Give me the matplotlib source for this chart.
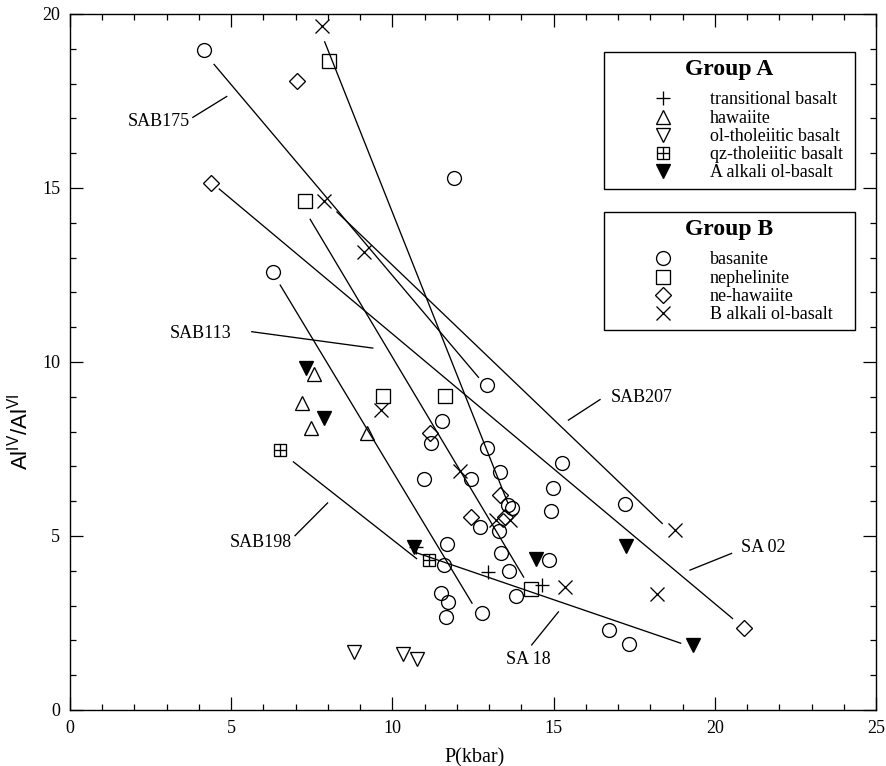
import matplotlib
matplotlib.use('Agg')
import matplotlib.pyplot as plt
from matplotlib.lines import Line2D
from matplotlib.ticker import MultipleLocator

plt.rcParams['font.family'] = ['Liberation Serif', 'DejaVu Serif']
plt.rcParams['mathtext.fontset'] = 'custom'
plt.rcParams['mathtext.rm'] = 'Liberation Sans'

# ---------------- data ----------------
# Group A
trans_x = [12.96, 14.65, 10.72]
trans_y = [3.97, 3.59, 4.68]
haw_x = [7.58, 7.21, 7.48, 9.22]
haw_y = [9.66, 8.81, 8.09, 7.97]
olth_x = [8.82, 10.33, 10.75]
olth_y = [1.68, 1.60, 1.46]
qzth_x = [6.52, 11.13]
qzth_y = [7.47, 4.31]
aalk_x = [7.33, 7.87, 10.66, 14.44, 17.25, 19.33]
aalk_y = [9.82, 8.38, 4.69, 4.34, 4.72, 1.87]

# Group B
bas_x = [4.16, 11.90, 6.31, 12.92, 11.54, 11.20, 12.92, 15.27, 13.33, 12.44,
         10.97, 14.99, 13.60, 13.70, 14.93, 12.71, 13.32, 11.68, 11.59, 13.37,
         14.85, 13.61, 13.82, 11.52, 11.73, 11.65, 12.79, 17.20, 16.72, 17.35]
bas_y = [18.97, 15.28, 12.60, 9.34, 8.30, 7.66, 7.54, 7.09, 6.84, 6.63,
         6.65, 6.37, 5.90, 5.80, 5.72, 5.27, 5.15, 4.77, 4.17, 4.50,
         4.31, 3.98, 3.28, 3.35, 3.09, 2.66, 2.78, 5.92, 2.30, 1.90]
neph_x = [8.02, 7.30, 9.71, 11.62, 14.29]
neph_y = [18.65, 14.63, 9.03, 9.02, 3.47]
nehaw_x = [7.04, 4.37, 11.18, 13.33, 13.50, 12.44, 20.90]
nehaw_y = [18.07, 15.15, 7.95, 6.18, 5.55, 5.55, 2.37]
balk_x = [7.83, 7.89, 9.11, 9.66, 12.09, 13.20, 13.65, 15.34, 18.20, 18.76]
balk_y = [19.66, 14.63, 13.17, 8.62, 6.88, 5.45, 5.45, 3.53, 3.33, 5.16]

# regression lines (start / end)
line_x0 = [4.47, 7.90, 7.45, 6.52, 4.63, 8.28, 6.93, 10.65]
line_y0 = [18.55, 19.20, 14.10, 12.21, 14.97, 14.31, 7.13, 4.55]
line_x1 = [12.67, 13.58, 14.07, 12.47, 20.55, 18.37, 10.75, 18.94]
line_y1 = [9.56, 5.95, 3.82, 3.07, 2.63, 5.36, 4.35, 1.92]

# sample labels with leader lines
lab_text = ['SAB175', 'SAB113', 'SAB207', 'SAB198', 'SA 02', 'SA 18']
lab_x = [2.75, 4.05, 17.72, 5.92, 21.50, 14.21]
lab_y = [16.90, 10.83, 8.99, 4.82, 4.66, 1.44]
lead_x0 = [3.81, 5.64, 15.46, 6.98, 19.23, 14.32]
lead_y0 = [17.03, 10.87, 8.33, 5.01, 4.02, 1.87]
lead_x1 = [4.86, 9.39, 16.44, 7.99, 20.52, 15.15]
lead_y1 = [17.63, 10.40, 8.92, 5.95, 4.50, 2.82]

groupA_labels = ['transitional basalt', 'hawaiite', 'ol-tholeiitic basalt',
                 'qz-tholeiitic basalt', 'A alkali ol-basalt']
groupB_labels = ['basanite', 'nephelinite', 'ne-hawaiite', 'B alkali ol-basalt']

# ---------------- figure ----------------
fig = plt.figure(figsize=(8.86, 7.66), dpi=100)
ax = fig.add_axes([70 / 886, 1 - 710 / 766, 806 / 886, 696 / 766])

lw = 0.95
for xa, ya, xb, yb in zip(line_x0, line_y0, line_x1, line_y1):
    ax.plot([xa, xb], [ya, yb], color='black', lw=lw, zorder=2)

for t, tx, ty, xa, ya, xb, yb in zip(lab_text, lab_x, lab_y,
                                      lead_x0, lead_y0, lead_x1, lead_y1):
    ax.plot([xa, xb], [ya, yb], color='black', lw=lw, zorder=2)
    ax.text(tx, ty, t, ha='center', va='center', fontsize=13, zorder=3)

mk = dict(linestyle='none', color='black', markeredgewidth=0.95, zorder=4)
open_ = dict(markerfacecolor='none', **mk)

h_trans, = ax.plot(trans_x, trans_y, marker='+', markersize=10, **mk)
h_haw, = ax.plot(haw_x, haw_y, marker='^', markersize=10, **open_)
h_olth, = ax.plot(olth_x, olth_y, marker='v', markersize=10, **open_)
h_qz1, = ax.plot(qzth_x, qzth_y, marker='s', markersize=9, **open_)
h_qz2, = ax.plot(qzth_x, qzth_y, marker='+', markersize=9, **mk)
h_aalk, = ax.plot(aalk_x, aalk_y, marker='v', markersize=10,
                  markerfacecolor='black', **mk)

h_bas, = ax.plot(bas_x, bas_y, marker='o', markersize=10, **open_)
h_neph, = ax.plot(neph_x, neph_y, marker='s', markersize=9.5, **open_)
h_nehaw, = ax.plot(nehaw_x, nehaw_y, marker='D', markersize=8, **open_)
h_balk, = ax.plot(balk_x, balk_y, marker='x', markersize=10, **mk)

ax.set_xlim(0, 25)
ax.set_ylim(0, 20)
ax.xaxis.set_major_locator(MultipleLocator(5))
ax.xaxis.set_minor_locator(MultipleLocator(1))
ax.yaxis.set_major_locator(MultipleLocator(5))
ax.yaxis.set_minor_locator(MultipleLocator(1))
ax.tick_params(which='both', direction='in', top=True, right=True,
               width=0.9, labelsize=13, pad=7)
ax.tick_params(which='major', length=9.5)
ax.tick_params(which='minor', length=4.5)
for s in ax.spines.values():
    s.set_linewidth(1.0)

ax.set_xlabel('P(kbar)', fontsize=14.5)
ax.xaxis.set_label_coords(0.5025, -0.055)
ax.set_ylabel(r'Al$^{\mathrm{IV}}$/Al$^{\mathrm{VI}}$', fontsize=16,
              family='Liberation Sans')
ax.yaxis.set_label_coords(-0.047, 0.40)

# ---------------- legends ----------------
def make_legend(handles, labels, title, top):
    leg = ax.legend(handles, labels, title=title, loc='upper left',
                    bbox_to_anchor=(0.6625, top - 0.3, 0.3115, 0.3),
                    mode='expand', borderaxespad=0, fontsize=13,
                    title_fontproperties={'size': 17, 'weight': 'bold',
                                          'family': 'Liberation Serif'},
                    frameon=True, fancybox=False, shadow=False, framealpha=1,
                    edgecolor='black', numpoints=1, handlelength=5.74,
                    handletextpad=-0.27, handleheight=0.6,
                    labelspacing=0.07, borderpad=0.4)
    leg.get_frame().set_linewidth(1.0)
    leg._legend_box.sep = 8
    return leg

legA = make_legend([h_trans, h_haw, h_olth, (h_qz1, h_qz2), h_aalk],
                   groupA_labels, 'Group A', 0.9454)
ax.add_artist(legA)
legB = make_legend([h_bas, h_neph, h_nehaw, h_balk],
                   groupB_labels, 'Group B', 0.7155)

fig.savefig('out.png', dpi=100)
